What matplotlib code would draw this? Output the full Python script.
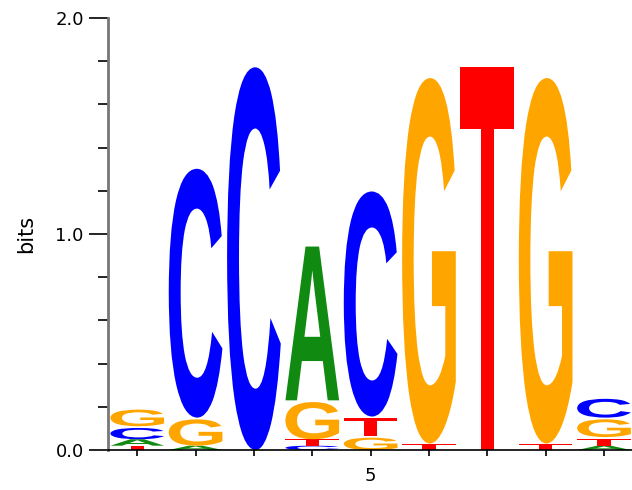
import numpy as np
import matplotlib
matplotlib.use('Agg')
import matplotlib.pyplot as plt
from matplotlib.textpath import TextPath
from matplotlib.patches import PathPatch
from matplotlib.font_manager import FontProperties
from matplotlib.transforms import Affine2D

# Posiciones y contenido de informacion (bits) por letra
posiciones = [1, 2, 3, 4, 5, 6, 7, 8, 9]
bits_A = [0.03, 0.02, 0.0, 0.72, 0.0, 0.0, 0.0, 0.0, 0.02]
bits_C = [0.06, 1.16, 1.78, 0.02, 1.05, 0.0, 0.0, 0.0, 0.095]
bits_G = [0.085, 0.13, 0.0, 0.18, 0.065, 1.70, 0.0, 1.70, 0.09]
bits_T = [0.02, 0.0, 0.0, 0.03, 0.09, 0.03, 1.78, 0.03, 0.04]

colores = {'A': '#108a10', 'C': '#0000ff', 'G': '#ffa500', 'T': '#ff0000'}
fuente = FontProperties(family='Liberation Sans', weight='bold')


def dibujar_letra(ax, letra, x, y, ancho, alto):
    path = TextPath((0, 0), letra, size=1, prop=fuente)
    ext = path.get_extents()
    # pequeño hueco entre letras apiladas
    hueco = 0.008 if alto > 0.03 else 0.0
    alto = alto - hueco
    t = (Affine2D().translate(-ext.x0, -ext.y0)
         .scale(ancho / ext.width, alto / ext.height)
         .translate(x - ancho / 2, y))
    ax.add_patch(PathPatch(t.transform_path(path), facecolor=colores[letra],
                           edgecolor='none'))


fig = plt.figure(figsize=(6.32, 4.9), dpi=100)
ax = fig.add_axes([0.171, 0.0816, 0.829, 0.8816])

tabla = {'A': bits_A, 'C': bits_C, 'G': bits_G, 'T': bits_T}
for i, x in enumerate(posiciones):
    alturas = sorted([(tabla[l][i], l) for l in 'ACGT'])
    y = 0.0
    for h, l in alturas:
        if h <= 0:
            continue
        dibujar_letra(ax, l, x, y, 0.92, h)
        y += h

ax.set_xlim(0.5, 9.48)
ax.set_ylim(0, 2.0)

ax.spines['top'].set_visible(False)
ax.spines['right'].set_visible(False)
ax.spines['left'].set_color('#777777')
ax.spines['left'].set_linewidth(2)
ax.spines['bottom'].set_linewidth(1.2)

ax.set_yticks([0, 1, 2])
ax.set_yticklabels(['0.0', '1.0', '2.0'])
ax.set_yticks(np.arange(0, 2.01, 0.2), minor=True)
ax.tick_params(axis='y', which='major', length=14, width=1.2, labelsize=13)
ax.tick_params(axis='y', which='minor', length=7, width=1.2)
ax.set_xticks(posiciones)
ax.set_xticklabels(['' if p != 5 else '5' for p in posiciones])
ax.tick_params(axis='x', length=4, width=1.2, labelsize=13, pad=8)
ax.set_ylabel('bits', fontsize=15, labelpad=14)

fig.savefig('out.png', dpi=100)
